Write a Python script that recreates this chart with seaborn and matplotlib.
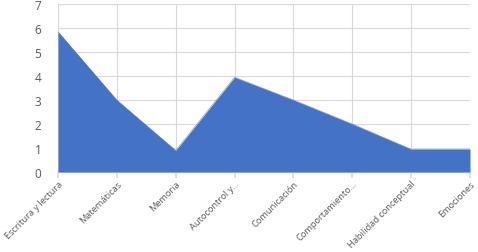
import matplotlib
matplotlib.use("Agg")
import matplotlib.pyplot as plt
import seaborn as sns
import pandas as pd
import numpy as np

categories = ["Escritura y lectura", "Matemáticas", "Memoria", "Autocontrol y...",
              "Comunicación", "Comportamiento...", "Habilidad conceptual", "Emociones"]
values = [5.85, 3.0, 0.9, 3.95, 3.0, 2.0, 0.95, 0.95]
yticks = [0, 1, 2, 3, 4, 5, 6, 7]

sns.set_theme(style="white")
plt.rcParams['font.family'] = ['Open Sans', 'DejaVu Sans']

df = pd.DataFrame({"cat": categories, "val": values})
df["x"] = np.arange(len(categories))

fig = plt.figure(figsize=(4.78, 2.53), dpi=100)
ax = fig.add_axes([58/478, 1-173/253, (470-58)/478, (173-5)/253])

fill = "#4472C4"
ax.fill_between(df["x"], 0, df["val"], color=fill, linewidth=0, zorder=3)
sns.lineplot(data=df, x="x", y="val", ax=ax, color=fill, linewidth=0.3, zorder=3)

ax.set_xlim(0, len(categories) - 1)
ax.set_ylim(0, 7)
ax.set_yticks(yticks)
ax.set_yticklabels([str(t) for t in yticks])
ax.set_xticks(df["x"])
ax.set_xticklabels(categories, rotation=45, ha="right", rotation_mode="anchor")
ax.grid(True, color="#D9D9D9", linewidth=0.8, zorder=0)
ax.set_axisbelow(True)
for s in ["top", "right", "left"]:
    ax.spines[s].set_visible(False)
ax.spines["bottom"].set_color("#D9D9D9")
ax.spines["bottom"].set_linewidth(0.8)
ax.tick_params(axis="x", length=4, color="#D9D9D9", labelsize=6.7, labelcolor="#595959", pad=1, bottom=True)
ax.tick_params(axis="y", length=0, labelsize=8.5, labelcolor="#595959", pad=12)
ax.set_xlabel("")
ax.set_ylabel("")

fig.savefig("out.png", dpi=100)
